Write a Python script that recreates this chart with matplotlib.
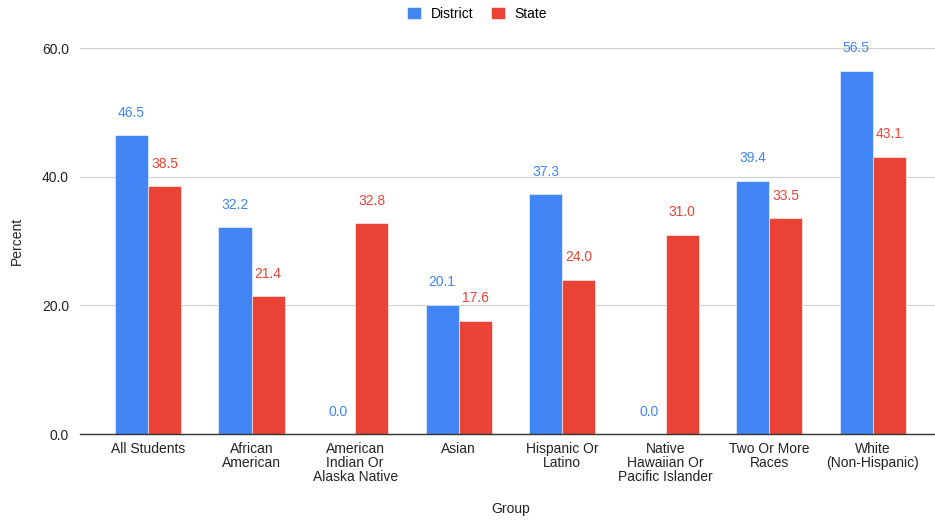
import matplotlib
matplotlib.use("Agg")
import matplotlib.pyplot as plt
import numpy as np

plt.rcParams['font.family'] = ['Liberation Sans', 'DejaVu Sans']

groups = ["All Students", "African\nAmerican", "American\nIndian Or\nAlaska Native",
          "Asian", "Hispanic Or\nLatino", "Native\nHawaiian Or\nPacific Islander",
          "Two Or More\nRaces", "White\n(Non-Hispanic)"]
district = [46.5, 32.2, 0.0, 20.1, 37.3, 0.0, 39.4, 56.5]
state = [38.5, 21.4, 32.8, 17.6, 24.0, 31.0, 33.5, 43.1]
yticks = [0, 20, 40, 60]

blue = "#4285F4"
red = "#EA4335"
txt = "#222222"
fs = 10

fig = plt.figure(figsize=(9.35, 5.21), dpi=100)
W, H = 935, 521
ax = fig.add_axes([80 / W, (H - 434) / H, (935 - 80) / W, (434 - 48) / H])

x = np.arange(len(groups))
bw = 0.32
b1 = ax.bar(x - bw / 2, district, bw, color=blue, edgecolor="white", linewidth=0.4, label="District", zorder=3)
b2 = ax.bar(x + bw / 2, state, bw, color=red, edgecolor="white", linewidth=0.4, label="State", zorder=3)

for rects, vals, c in [(b1, district, blue), (b2, state, red)]:
    for r, v in zip(rects, vals):
        ax.annotate(f"{v:.1f}", (r.get_x() + r.get_width() / 2, v),
                    xytext=(0, 11), textcoords="offset points",
                    ha="center", va="bottom", color=c, fontsize=fs)

ax.set_ylim(0, 60)
ax.set_xlim(-0.657, 7.6)
ax.set_yticks(yticks)
ax.set_yticklabels([f"{t:.1f}" for t in yticks])
ax.set_xticks(x)
ax.set_xticklabels(groups, fontsize=fs, color=txt, linespacing=1.0)
ax.tick_params(axis="y", labelsize=fs, colors=txt, length=0, pad=8)
ax.tick_params(axis="x", length=0, pad=6)
ax.grid(axis="y", color="#d0d0d0", linewidth=0.8, zorder=0)
for s in ["top", "right", "left"]:
    ax.spines[s].set_visible(False)
ax.spines["bottom"].set_color("#333333")
ax.spines["bottom"].set_linewidth(1.0)
ax.spines["bottom"].set_zorder(4)

# axis titles placed in figure coordinates
fig.text(17 / W, 1 - 241 / H, "Percent", rotation=90, ha="center", va="center",
         fontsize=fs, color=txt)
fig.text(511 / W, 1 - 509 / H, "Group", ha="center", va="center",
         fontsize=fs, color=txt)

fig.legend(handles=[b1, b2], labels=["District", "State"], loc="center",
           bbox_to_anchor=(477 / W, 1 - 14 / H), ncol=2, frameon=False,
           fontsize=fs, handlelength=1.0, handleheight=1.0, columnspacing=1.3,
           handletextpad=0.7)

fig.savefig("out.png", dpi=100)
